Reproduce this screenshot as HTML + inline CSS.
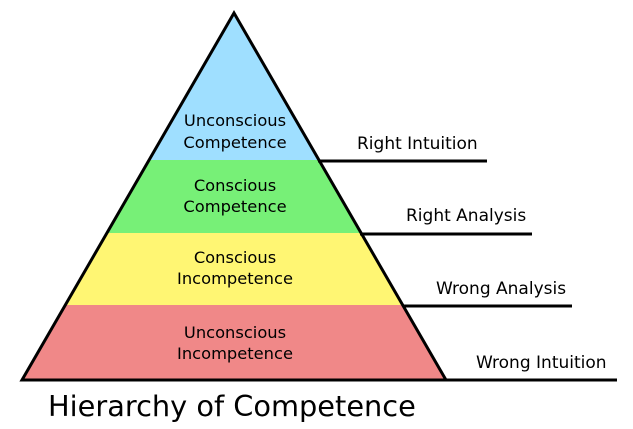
<!DOCTYPE html>
<html><head><style>
html,body{margin:0;padding:0;background:#fff;width:633px;height:429px;overflow:hidden}
text{font-family:"DejaVu Sans","Liberation Sans",sans-serif;fill:#000}
</style></head><body>
<svg width="633" height="429" viewBox="0 0 633 429" xmlns="http://www.w3.org/2000/svg">
<defs><clipPath id="t"><polygon points="234,13 22,380 446,380"/></clipPath></defs>
<g clip-path="url(#t)">
<rect x="0" y="0" width="633" height="160" fill="#9fdfff"/>
<rect x="0" y="160" width="633" height="73" fill="#77f077"/>
<rect x="0" y="233" width="633" height="72" fill="#fff673"/>
<rect x="0" y="305" width="633" height="75" fill="#f08888"/>
</g>
<polygon points="234,13 22,380 446,380" fill="none" stroke="#000" stroke-width="3" stroke-linejoin="miter"/>
<g stroke="#000" stroke-width="3">
<line x1="318" y1="161" x2="487" y2="161"/>
<line x1="360" y1="234" x2="532" y2="234"/>
<line x1="403" y1="306" x2="572" y2="306"/>
<line x1="446" y1="380" x2="617" y2="380"/>
</g>
<g font-size="16.3" text-anchor="middle">
<text x="235" y="126">Unconscious</text>
<text x="235" y="148">Competence</text>
<text x="235" y="191">Conscious</text>
<text x="235" y="212">Competence</text>
<text x="235" y="263">Conscious</text>
<text x="235" y="284">Incompetence</text>
<text x="235" y="338">Unconscious</text>
<text x="235" y="359">Incompetence</text>
</g>
<g font-size="17">
<text x="357" y="149">Right Intuition</text>
<text x="406" y="221">Right Analysis</text>
<text x="436" y="294">Wrong Analysis</text>
<text x="476" y="368">Wrong Intuition</text>
</g>
<text x="48" y="416" font-size="28.8">Hierarchy of Competence</text>
</svg>
</body></html>
